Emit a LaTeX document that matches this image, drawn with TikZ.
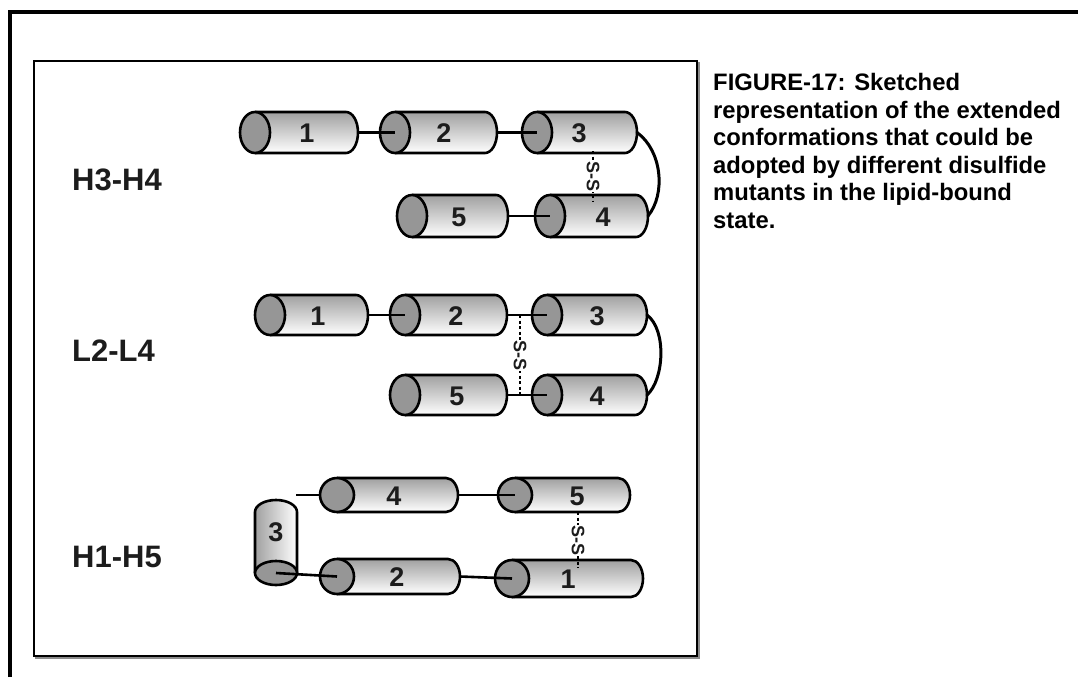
\documentclass[tikz,border=0pt]{standalone}
\usepackage{fontspec}
\setmainfont{Liberation Sans}

\definecolor{capgray}{RGB}{150,150,150}
\definecolor{bodytop}{RGB}{160,160,160}
\definecolor{bodymid}{RGB}{205,205,205}
\definecolor{inkgray}{RGB}{28,28,28}
\definecolor{shadowgray}{RGB}{140,140,140}

\tikzset{
  helixline/.style={line width=2.6pt, black, line join=round},
  linker/.style={line width=2.6pt, black},
  thinlinker/.style={line width=2pt, black},
  loopline/.style={line width=3pt, black, line cap=round},
  ssbond/.style={line width=2pt, black, dash pattern=on 3pt off 2.5pt},
  helixnum/.style={font=\bfseries\fontsize{27}{27}\selectfont, text=inkgray, inner sep=0pt},
  sslabel/.style={font=\bfseries\fontsize{18}{18}\selectfont, text=inkgray, inner sep=0.5pt, fill=white, rotate=-90},
  mutant/.style={font=\bfseries\fontsize{31}{31}\selectfont, text=inkgray, anchor=west, inner sep=0pt},
  captionline/.style={font=\bfseries\fontsize{23.8}{27.5}\selectfont, anchor=base west, inner sep=0pt},
}

% horizontal helix: name, left, right, top, bottom, label, label x, cap x-radius
\newcommand{\hhelix}[8]{%
  \pgfmathsetmacro{\hmid}{(#4+#5)/2}%
  \pgfmathsetmacro{\hrad}{(#5-#4)/2}%
  \coordinate (#1-c) at ({#2+#8},\hmid);
  \coordinate (#1-w) at (#2,\hmid);
  \coordinate (#1-e) at (#3,\hmid);
  \shade[top color=bodytop, middle color=bodymid, bottom color=white]
    ({#2+#8},#4) -- ({#3-12},#4)
    arc[start angle=-90, end angle=90, x radius=12, y radius=\hrad]
    -- ({#2+#8},#5) -- cycle;
  \draw[helixline] ({#2+#8},#4) -- ({#3-12},#4)
    arc[start angle=-90, end angle=90, x radius=12, y radius=\hrad]
    -- ({#2+#8},#5);
  \filldraw[helixline, fill=capgray] (#1-c) ellipse [x radius=#8, y radius=\hrad];
  \node[helixnum] (#1) at (#7,{\hmid+1}) {#6};
}

% vertical helix with its end face at the bottom: name, left, right, top, bottom, label, label y, cap y-radius
\newcommand{\vhelix}[8]{%
  \pgfmathsetmacro{\vmid}{(#2+#3)/2}%
  \pgfmathsetmacro{\vrad}{(#3-#2)/2}%
  \coordinate (#1-c) at (\vmid,{#5-#8});
  \coordinate (#1-n) at (\vmid,#4);
  \shade[left color=bodytop, middle color=bodymid, right color=white]
    (#2,{#5-#8}) -- (#2,{#4+12})
    arc[start angle=180, end angle=360, x radius=\vrad, y radius=12]
    -- (#3,{#5-#8}) -- cycle;
  \draw[helixline] (#2,{#5-#8}) -- (#2,{#4+12})
    arc[start angle=180, end angle=360, x radius=\vrad, y radius=12]
    -- (#3,{#5-#8});
  \filldraw[helixline, fill=capgray] (#1-c) ellipse [x radius=\vrad, y radius=#8];
  \node[helixnum] (#1) at (\vmid,#7) {#6};
}

\begin{document}
\begin{tikzpicture}[x=1pt, y=-1pt]
  \useasboundingbox (0,0) rectangle (1078,677);
  \fill[white] (0,0) rectangle (1078,677);

  % page frame
  \draw[line width=4pt, line cap=butt] (10,677) -- (10,12) -- (1078,12);

  % figure panel with its drop shadow
  \draw[line width=2pt, shadowgray] (36,63) rectangle (699,658);
  \draw[line width=2.2pt, black, fill=white] (34,61) rectangle (697,656);

  % mutant names
  \node[mutant] (m1) at (72,180) {H3-H4};
  \node[mutant] (m2) at (72,351) {L2-L4};
  \node[mutant] (m3) at (72,557) {H1-H5};

  % ---------- H3-H4 ----------
  \hhelix{a1}{240}{358}{112}{153}{1}{307}{15}
  \hhelix{a2}{380}{497}{112}{153}{2}{444}{15}
  \hhelix{a3}{522}{637}{112}{153}{3}{579}{15}
  \hhelix{a5}{397}{508}{195}{237}{5}{459}{15}
  \hhelix{a4}{535}{648}{195}{237}{4}{603}{15}
  \draw[linker] (a1-e) -- (a2-c);
  \draw[linker] (a2-e) -- (a3-c);
  \draw[linker] (a5-e) -- (a4-c);
  \draw[loopline] (a3-e) .. controls +(25,18) and +(18,-22) .. (a4-e);
  \coordinate (a3-s) at (593,151);
  \coordinate (a4-s) at (593,202);
  \draw[ssbond] (a3-s) -- (a4-s);
  \path (a3-s) -- node[sslabel] (ss1) {S-S} (a4-s);

  % ---------- L2-L4 ----------
  \hhelix{b1}{255}{368}{295}{335}{1}{318}{15}
  \hhelix{b2}{390}{507}{295}{335}{2}{456}{15}
  \hhelix{b3}{532}{647}{295}{335}{3}{597}{15}
  \hhelix{b5}{390}{507}{375}{415}{5}{457}{15}
  \hhelix{b4}{532}{647}{375}{415}{4}{597}{15}
  \draw[linker] (b1-e) -- (b2-c);
  \draw[linker] (b2-e) -- (b3-c);
  \draw[linker] (b5-e) -- (b4-c);
  \draw[loopline] (b3-e) .. controls +(20,15) and +(17,-15) .. (b4-e);
  \coordinate (b23) at (520,315);
  \coordinate (b54) at (520,395);
  \draw[ssbond] (b23) -- (b54);
  \path (b23) -- node[sslabel] (ss2) {S-S} (b54);

  % ---------- H1-H5 ----------
  \vhelix{c3}{255}{297}{500}{585}{3}{532}{12}
  \hhelix{c4}{320}{458}{478}{512}{4}{394}{17}
  \hhelix{c5}{498}{630}{478}{512}{5}{577}{17}
  \hhelix{c2}{320}{460}{559}{594}{2}{397}{17}
  \hhelix{c1}{495}{643}{560}{597}{1}{568}{17}
  \coordinate (c3-ne) at (296,495);
  \draw[thinlinker] (c3-ne) -- (c4-w);
  \draw[linker] (c3-c) -- (c2-c);
  \draw[linker] (c4-e) -- (c5-c);
  \draw[linker] (c2-e) -- (c1-c);
  \coordinate (c5-s) at (578,512);
  \coordinate (c1-s) at (578,568);
  \draw[ssbond] (c5-s) -- (c1-s);
  \path (c5-s) -- node[sslabel] (ss3) {S-S} (c1-s);

  % caption
  \node[captionline] (t1) at (713,90.5) {FIGURE-17: Sketched};
  \node[captionline] (t2) at (713,118) {representation of the extended};
  \node[captionline] (t3) at (713,145.5) {conformations that could be};
  \node[captionline] (t4) at (713,173) {adopted by different disulfide};
  \node[captionline] (t5) at (713,200.5) {mutants in the lipid-bound};
  \node[captionline] (t6) at (713,228) {state.};
\end{tikzpicture}
\end{document}
